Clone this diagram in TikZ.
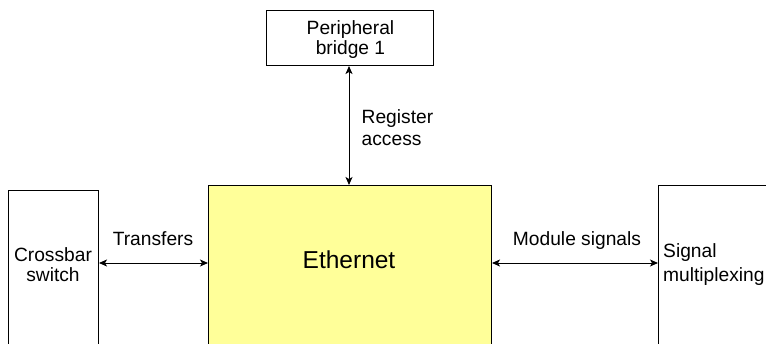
\documentclass[tikz,border=0pt]{standalone}
\usepackage{fontspec}
\setmainfont{Liberation Sans}
\usetikzlibrary{arrows.meta}
\definecolor{ethyellow}{RGB}{255,255,153}
\tikzset{
  box/.style={draw=black, line width=1pt, rectangle, inner sep=0pt, anchor=north west},
  lbl/.style={font=\fontsize{19.2}{24}\selectfont, inner sep=0pt},
  arr/.style={line width=1pt, {Stealth[length=8pt,width=7pt,inset=2pt]}-{Stealth[length=8pt,width=7pt,inset=2pt]}}
}
\begin{document}
\begin{tikzpicture}[x=1pt,y=-1pt]
\path[use as bounding box, clip] (0,0) rectangle (766,343);
% boxes
\node[box, minimum width=90pt, minimum height=180pt] (cross) at (8,190) {};
\node[box, fill=ethyellow, minimum width=283pt, minimum height=180pt] (eth) at (208,185) {};
\node[box, minimum width=130pt, minimum height=180pt] (sig) at (658,185) {};
\node[box, minimum width=167pt, minimum height=55pt] (per) at (266,10) {};
% texts
\node[lbl, anchor=base] (cross1) at (53,261) {Crossbar};
\node[lbl, anchor=base] (cross2) at (53,281.7) {switch};
\node[font=\fontsize{24.5}{28}\selectfont, inner sep=0pt, anchor=base] (etht) at (349,268.3) {Ethernet};
\node[lbl, anchor=base west] (sig1) at (663,257.7) {Signal};
\node[lbl, anchor=base west] (sig2) at (663,281.7) {multiplexing};
\node[lbl, anchor=base] (per1) at (350.5,34) {Peripheral};
\node[lbl, anchor=base] (per2) at (350.5,54.7) {bridge 1};
\node[lbl, anchor=base west] (reg1) at (361.5,123.3) {Register};
\node[lbl, anchor=base west] (reg2) at (361.5,145) {access};
\node[lbl, anchor=base] (trt) at (153,245.7) {Transfers};
\node[lbl, anchor=base] (modt) at (577,245.7) {Module signals};
% connectors
\coordinate (ly) at (0,263);
\coordinate (vx) at (349,0);
\draw[arr] (cross.east |- ly) -- (eth.west |- ly);
\draw[arr] (eth.east |- ly) -- (sig.west |- ly);
\draw[arr] (per.south -| vx) -- (eth.north -| vx);
\end{tikzpicture}
\end{document}
